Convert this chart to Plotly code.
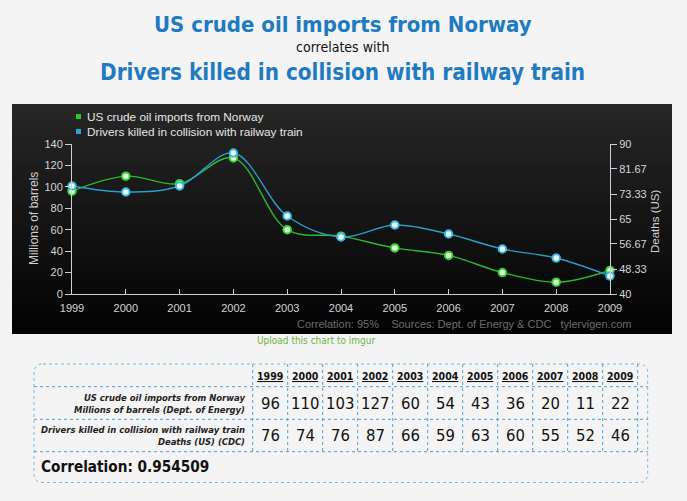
import plotly.graph_objects as go

# ---------------- data ----------------
years = [1999, 2000, 2001, 2002, 2003, 2004, 2005, 2006, 2007, 2008, 2009]
oil_imports = [96, 110, 103, 127, 60, 54, 43, 36, 20, 11, 22]
rail_deaths = [76, 74, 76, 87, 66, 59, 63, 60, 55, 52, 46]
oil_ticks = [0, 20, 40, 60, 80, 100, 120, 140]
death_ticks = [40, 48.33, 56.67, 65, 73.33, 81.67, 90]
series_names = ["US crude oil imports from Norway", "Drivers killed in collision with railway train"]
axis_titles = ["Millions of barrels", "Deaths (US)"]
title_top = "US crude oil imports from Norway"
title_mid = "correlates with"
title_bottom = "Drivers killed in collision with railway train"
row_labels = ["US crude oil imports from Norway<br>Millions of barrels (Dept. of Energy)",
              "Drivers killed in collision with railway train<br>Deaths (US) (CDC)"]
correlation = 0.954509
footer = "Correlation: 95%\u00a0\u00a0\u00a0 Sources: Dept. of Energy & CDC\u00a0\u00a0\u00a0tylervigen.com"
upload_text = "Upload this chart to imgur"

# ---------------- styling ----------------
W, H = 687, 501
FONT = "DejaVu Sans Condensed"
NUM_FONT = "DejaVu Sans Condensed"
CH_FONT = "Liberation Sans"
GREEN = "#2fb52f"
BLUE = "#2b9ccc"
AXC = "#cfcfcf"
BG = "#f4f4f4"


def px(x):
    return x / W


def py(y):
    return 1 - y / H


fig = go.Figure()

fig.add_trace(go.Scatter(
    x=years, y=oil_imports, name=series_names[0], mode="lines+markers",
    line=dict(color=GREEN, width=1.4, shape="spline", smoothing=1.0),
    marker=dict(size=7.5, color="#e0ffd8", line=dict(color="#3ad03a", width=2)),
    cliponaxis=False, yaxis="y"))
fig.add_trace(go.Scatter(
    x=years, y=rail_deaths, name=series_names[1], mode="lines+markers",
    line=dict(color=BLUE, width=1.4, shape="spline", smoothing=1.0),
    marker=dict(size=7.5, color="#f0ffff", line=dict(color="#3ab8e0", width=2)),
    cliponaxis=False, yaxis="y2"))

shapes = []
# dark panel with vertical gradient (overlapping bands, no seams)
top, bot = 104, 334
n = 30
for i in range(n):
    y0 = top + (bot - top) * i / n
    t = i / (n - 1)
    c = int(round(38 - 35 * t))
    shapes.append(dict(type="rect", xref="paper", yref="paper", layer="below",
                       x0=px(12), x1=px(672), y0=py(bot), y1=py(y0),
                       fillcolor=f"rgb({c},{c},{c})", line=dict(width=0)))

# legend squares
for i, col in enumerate(["#22cc22", "#22a8d8"]):
    cy = 116.5 + 15 * i
    shapes.append(dict(type="rect", xref="paper", yref="paper",
                       x0=px(76), x1=px(81), y0=py(cy + 2.5), y1=py(cy - 2.5),
                       fillcolor=col, line=dict(width=0)))

# table
TL, TR, TT, TB = 34, 647.7, 364, 482.5
col0 = 252.7
cw = 35
row_lines = [386.7, 419.3, 451.7]
DOT = "#4f9fd2"
r = 9
rx, ry = r / W, r / H
path = (f"M {px(TL)+rx},{py(TT)} L {px(TR)-rx},{py(TT)} Q {px(TR)},{py(TT)} {px(TR)},{py(TT)-ry} "
        f"L {px(TR)},{py(TB)+ry} Q {px(TR)},{py(TB)} {px(TR)-rx},{py(TB)} "
        f"L {px(TL)+rx},{py(TB)} Q {px(TL)},{py(TB)} {px(TL)},{py(TB)+ry} "
        f"L {px(TL)},{py(TT)-ry} Q {px(TL)},{py(TT)} {px(TL)+rx},{py(TT)} Z")
shapes.append(dict(type="path", xref="paper", yref="paper", path=path,
                   line=dict(color="#7ab4dc", width=1, dash="dot")))
for yl in row_lines:
    shapes.append(dict(type="line", xref="paper", yref="paper",
                       x0=px(TL), x1=px(TR), y0=py(yl), y1=py(yl),
                       line=dict(color=DOT, width=1, dash="dot")))
for k in range(len(years) + 1):
    xl = col0 + cw * k
    shapes.append(dict(type="line", xref="paper", yref="paper",
                       x0=px(xl), x1=px(xl), y0=py(TT), y1=py(row_lines[-1]),
                       line=dict(color=DOT, width=1, dash="dot")))

ann = []
TITLE_BLUE = "#1f7bc1"
ann.append(dict(text=f"<b>{title_top}</b>", x=px(343), y=py(24), font=dict(family=FONT, size=22, color=TITLE_BLUE)))
ann.append(dict(text=title_mid, x=px(342), y=py(47), font=dict(family=FONT, size=14, color="#111")))
ann.append(dict(text=f"<b>{title_bottom}</b>", x=px(342), y=py(72), font=dict(family=FONT, size=22.3, color=TITLE_BLUE)))

# legend texts
for i, name in enumerate(series_names):
    ann.append(dict(text=name, x=px(85), y=py(117 + 15 * i), xanchor="left",
                    font=dict(family=CH_FONT, size=11.8, color="#e6e6e6")))

# axis titles
ann.append(dict(text=axis_titles[0], x=px(34), y=py(219), textangle=-90,
                font=dict(family=CH_FONT, size=12, color="#cfcfcf")))
ann.append(dict(text=axis_titles[1], x=px(655), y=py(222), textangle=-90,
                font=dict(family=CH_FONT, size=11.5, color="#cfcfcf")))

# footer
ann.append(dict(text=footer, x=px(633), y=py(324), xanchor="right",
                font=dict(family=CH_FONT, size=11, color="#6c6c6c")))
ann.append(dict(text=upload_text, x=px(316), y=py(340),
                font=dict(family=FONT, size=10, color="#6cb33e")))

# table texts
for k, yr in enumerate(years):
    cx = col0 + cw * (k + 0.5)
    ann.append(dict(text=f"<b><u>{yr}</u></b>", x=px(cx), y=py(376),
                    font=dict(family=FONT, size=10.5, color="#111")))
    ann.append(dict(text=str(oil_imports[k]), x=px(cx), y=py(403),
                    font=dict(family=NUM_FONT, size=16.5, color="#111")))
    ann.append(dict(text=str(rail_deaths[k]), x=px(cx), y=py(435),
                    font=dict(family=NUM_FONT, size=16.5, color="#111")))
for i, lab in enumerate(row_labels):
    ann.append(dict(text=f"<b><i>{lab}</i></b>", x=px(247), y=py(403 + 32 * i), xanchor="right",
                    align="right", font=dict(family=FONT, size=9.4, color="#222")))
ann.append(dict(text=f"<b>Correlation: {correlation}</b>", x=px(39), y=py(467), xanchor="left",
                font=dict(family=FONT, size=15.2, color="#111")))

for a in ann:
    a.setdefault("xref", "paper")
    a.setdefault("yref", "paper")
    a.setdefault("xanchor", "center")
    a.setdefault("yanchor", "middle")
    a.setdefault("showarrow", False)

axis_common = dict(showgrid=False, zeroline=False, showline=True, linecolor=AXC, linewidth=1,
                   tickcolor=AXC, tickfont=dict(family=CH_FONT, size=11, color="#d4d4d4"),
                   automargin=False)

fig.update_layout(
    width=W, height=H, margin=dict(l=0, r=0, t=0, b=0),
    paper_bgcolor=BG, plot_bgcolor="rgba(0,0,0,0)", showlegend=False,
    xaxis=dict(domain=[px(72), px(610)], range=[1999, 2009], tickvals=years,
               ticks="inside", ticklen=5, ticklabelstandoff=4, **axis_common),
    yaxis=dict(domain=[py(294), py(144)], range=[0, 140], tickvals=oil_ticks,
               ticks="outside", ticklen=6, **axis_common),
    yaxis2=dict(overlaying="y", side="right", range=[40, 90], tickvals=death_ticks,
                ticktext=[f"{v:g}" for v in death_ticks], ticks="outside", ticklen=6,
                anchor="x", **axis_common),
    shapes=shapes, annotations=ann,
)

fig.write_html("out.html", config={"displayModeBar": False},
               post_script="document.body.style.margin='0';document.body.style.background='%s';" % BG)
